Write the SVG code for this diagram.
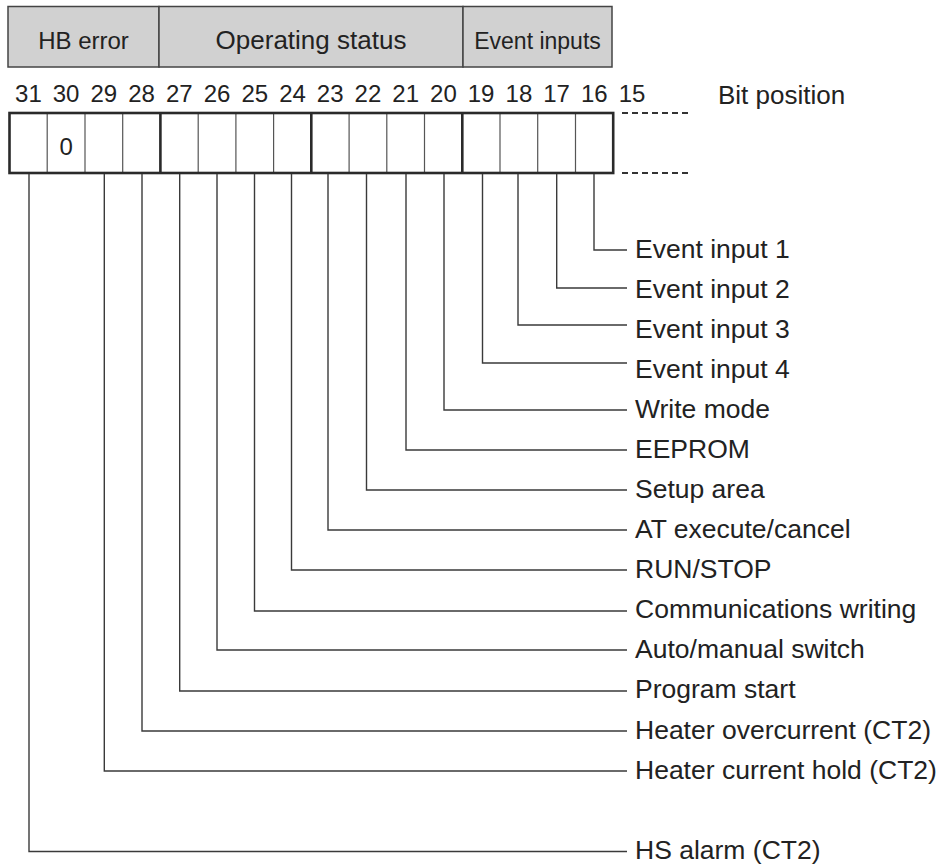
<svg xmlns="http://www.w3.org/2000/svg" width="942" height="867" viewBox="0 0 942 867">
<style>
text{font-family:"Liberation Sans",Arial,sans-serif;fill:#222}
.hdr{fill:#d1d1d1;stroke:#444;stroke-width:1.5}
.num{font-size:24px;text-anchor:middle}
.lbl{font-size:26.5px}
.thin{stroke:#555;stroke-width:1.2;fill:none}
.thick{stroke:#2a2a2a;stroke-width:2.6;fill:none}
.dash{stroke:#333;stroke-width:2;stroke-dasharray:6 4;fill:none}
.conn{stroke:#3a3a3a;stroke-width:1.4;fill:none}
</style>
<rect width="942" height="867" fill="#fff"/>
<g id="header">
<g id="hb-error"><rect class="hdr" x="8" y="6.5" width="151" height="60.5"/><text x="83.5" y="49" font-size="24" text-anchor="middle">HB error</text></g>
<g id="operating-status"><rect class="hdr" x="159" y="6.5" width="304" height="60.5"/><text x="311" y="49" font-size="26" text-anchor="middle">Operating status</text></g>
<g id="event-inputs"><rect class="hdr" x="463" y="6.5" width="149" height="60.5"/><text x="537.5" y="49" font-size="23" text-anchor="middle">Event inputs</text></g>
</g>
<g id="bit-numbers">
<text class="num" x="28.4" y="102">31</text>
<text class="num" x="66.1" y="102">30</text>
<text class="num" x="103.8" y="102">29</text>
<text class="num" x="141.6" y="102">28</text>
<text class="num" x="179.3" y="102">27</text>
<text class="num" x="217" y="102">26</text>
<text class="num" x="254.8" y="102">25</text>
<text class="num" x="292.5" y="102">24</text>
<text class="num" x="330.2" y="102">23</text>
<text class="num" x="367.9" y="102">22</text>
<text class="num" x="405.7" y="102">21</text>
<text class="num" x="443.4" y="102">20</text>
<text class="num" x="481.1" y="102">19</text>
<text class="num" x="518.9" y="102">18</text>
<text class="num" x="556.6" y="102">17</text>
<text class="num" x="594.3" y="102">16</text>
<text class="num" x="632.1" y="102">15</text>
<text x="718" y="104" font-size="26">Bit position</text>
</g>
<g id="register">
<path class="thin" d="M47.2 113V173M85 113V173M122.7 113V173M198.2 113V173M235.9 113V173M273.6 113V173M349.1 113V173M386.8 113V173M424.5 113V173M500 113V173M537.7 113V173M575.5 113V173"/>
<path class="thick" d="M160.4 113V173M311.3 113V173M462.3 113V173"/>
<rect class="thick" x="9.5" y="113" width="603.7" height="60"/>
<path class="dash" d="M622 113H690M622 173H690"/>
<text x="66.1" y="155" font-size="24" text-anchor="middle">0</text>
</g>
<g id="connectors">
<path class="conn" d="M594 174V250H627"/>
<path class="conn" d="M556.7 174V288H627"/>
<path class="conn" d="M518 174V325H627"/>
<path class="conn" d="M482.5 174V363H627"/>
<path class="conn" d="M444 174V410H627"/>
<path class="conn" d="M406 174V450H627"/>
<path class="conn" d="M366.5 174V490H627"/>
<path class="conn" d="M328 174V530H627"/>
<path class="conn" d="M291.5 174V570H627"/>
<path class="conn" d="M254.5 174V611H627"/>
<path class="conn" d="M217 174V650H627"/>
<path class="conn" d="M179.7 174V691H627"/>
<path class="conn" d="M142 174V731H627"/>
<path class="conn" d="M104.3 174V771H627"/>
<path class="conn" d="M29 174V851.5H627"/>
</g>
<g id="labels">
<text class="lbl" x="635" y="258">Event input 1</text>
<text class="lbl" x="635" y="298">Event input 2</text>
<text class="lbl" x="635" y="338">Event input 3</text>
<text class="lbl" x="635" y="378">Event input 4</text>
<text class="lbl" x="635" y="418">Write mode</text>
<text class="lbl" x="635" y="458">EEPROM</text>
<text class="lbl" x="635" y="498">Setup area</text>
<text class="lbl" x="635" y="538">AT execute/cancel</text>
<text class="lbl" x="635" y="578">RUN/STOP</text>
<text class="lbl" x="635" y="618">Communications writing</text>
<text class="lbl" x="635" y="658">Auto/manual switch</text>
<text class="lbl" x="635" y="698">Program start</text>
<text class="lbl" x="635" y="739">Heater overcurrent (CT2)</text>
<text class="lbl" x="635" y="779">Heater current hold (CT2)</text>
<text class="lbl" x="635" y="859">HS alarm (CT2)</text>
</g>
</svg>
